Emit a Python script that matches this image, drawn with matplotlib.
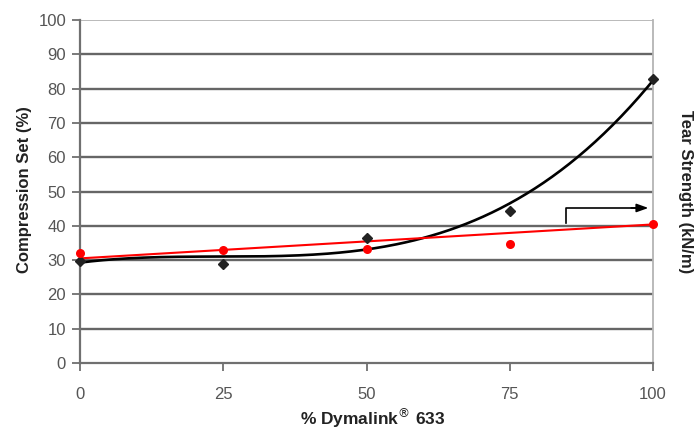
import numpy as np
import matplotlib.pyplot as plt

plt.rcParams["font.family"] = ["Liberation Sans", "DejaVu Sans"]

# --- Data ---
dymalink_pct = [0, 25, 50, 75, 100]
compression_set = [29.8, 28.9, 36.3, 44.4, 82.9]   # black points
tear_strength = [32.0, 32.9, 33.2, 34.7, 40.4]     # red points

# red trendline end values (as drawn in the source)
tear_trend_x = [0, 100]
tear_trend_y = [30.5, 40.4]

y_ticks = list(range(0, 101, 10))
x_ticks = [0, 25, 50, 75, 100]

# --- Figure ---
fig = plt.figure(figsize=(6.94, 4.32), dpi=100)
ax = fig.add_axes([80 / 694, 1 - 363 / 432, 573 / 694, 343 / 432])

# gridlines
for yv in y_ticks[1:-1]:
    ax.axhline(yv, color="#666666", lw=1.7, zorder=1)
ax.axhline(100, color="#b4b4b4", lw=1.3, zorder=1)

# black cubic trendline (like the spreadsheet polynomial trend)
coef = np.polyfit(dymalink_pct, compression_set, 3)
xs = np.linspace(0, 100, 200)
ax.plot(xs, np.polyval(coef, xs), color="black", lw=1.9, zorder=3)
ax.plot(tear_trend_x, tear_trend_y, color="#ff0000", lw=1.5, zorder=4)

ax.plot(dymalink_pct, compression_set, ls="none", marker="D", ms=5,
        color="#222222", zorder=5, clip_on=False)
ax.plot(dymalink_pct, tear_strength, ls="none", marker="o", ms=6.5,
        color="#ff0000", mec="none", zorder=6, clip_on=False)

# arrow pointing to right axis
arrow_x0, arrow_y0, arrow_y1, arrow_x1 = 84.8, 40.8, 45.2, 99.2
ax.plot([arrow_x0, arrow_x0, arrow_x1 - 2], [arrow_y0, arrow_y1, arrow_y1],
        color="black", lw=1.2, zorder=4)
ax.annotate("", xy=(arrow_x1, arrow_y1), xytext=(arrow_x1 - 3, arrow_y1),
            arrowprops=dict(arrowstyle="-|>,head_length=0.7,head_width=0.25",
                            color="black", lw=1.2, shrinkA=0, shrinkB=0))

ax.set_xlim(0, 100)
ax.set_ylim(0, 100)
ax.set_xticks(x_ticks)
ax.set_yticks(y_ticks)
ax.tick_params(axis="y", direction="out", length=6, width=1.3, colors="#707070",
               labelcolor="#555555", labelsize=12, pad=4)
ax.tick_params(axis="x", direction="out", length=6, width=1.3, colors="#707070",
               labelcolor="#555555", labelsize=12, pad=11)

for side in ["top"]:
    ax.spines[side].set_visible(False)
ax.spines["right"].set_color("#b4b4b4")
ax.spines["right"].set_linewidth(1.3)
for side in ["left", "bottom"]:
    ax.spines[side].set_color("#707070")
    ax.spines[side].set_linewidth(1.6)

fig.text(24 / 694, 1 - 190 / 432, "Compression Set (%)", rotation=90,
         ha="center", va="center", fontsize=12, fontweight="bold", color="#222222")
fig.text(686 / 694, 1 - 192 / 432, "Tear Strength (kN/m)", rotation=270,
         ha="center", va="center", fontsize=12, fontweight="bold", color="#222222")
fig.text(373 / 694, 1 - 418 / 432, "% Dymalink$^{\\circledR}$ 633",
         ha="center", va="center", fontsize=12.5, fontweight="bold", color="#222222")

fig.savefig("out.png", dpi=100)
